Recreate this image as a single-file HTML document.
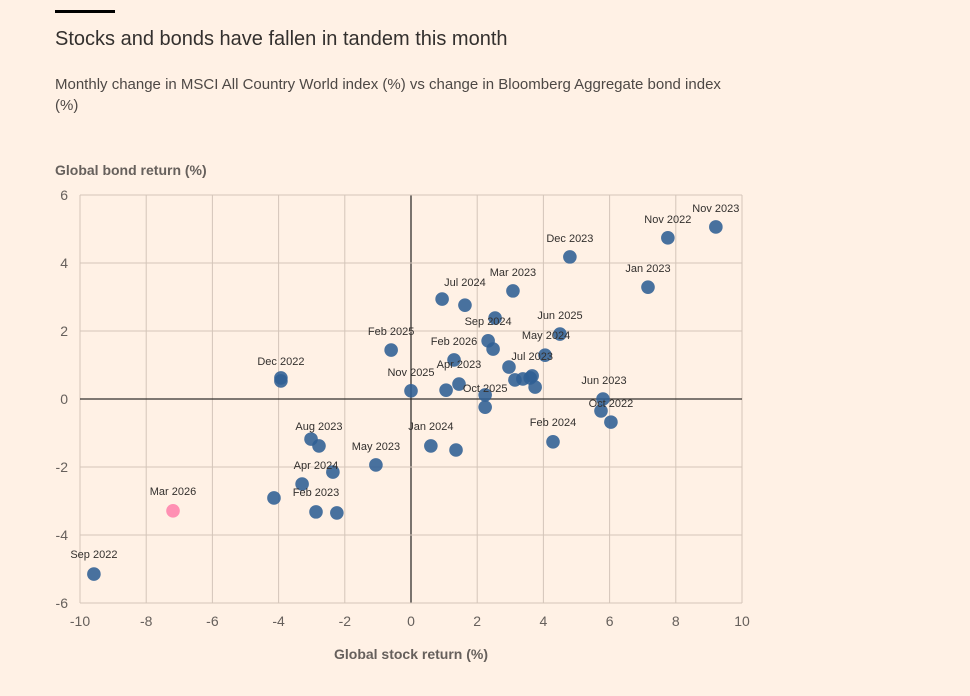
<!DOCTYPE html>
<html><head><meta charset="utf-8"><style>
body{margin:0;background:#fff1e5;font-family:"Liberation Sans",sans-serif;}
#wrap{position:relative;width:970px;height:696px;overflow:hidden;}
</style></head><body>
<div id="wrap">
<svg id="chart" width="970" height="696">
<rect x="55" y="10" width="60" height="3" fill="#000"/>
<text x="55" y="45" font-size="20" fill="#33302e">Stocks and bonds have fallen in tandem this month</text>
<text x="55" y="89" font-size="15" fill="#4d4845">Monthly change in MSCI All Country World index (%) vs change in Bloomberg Aggregate bond index</text>
<text x="55" y="110" font-size="15" fill="#4d4845">(%)</text>
<text x="55" y="175" font-size="14" font-weight="bold" fill="#66605c">Global bond return (%)</text>
<text x="411" y="659" font-size="14" font-weight="bold" fill="#66605c" text-anchor="middle">Global stock return (%)</text>
<g id="grid"></g><g id="dots"></g><g id="labels"></g>
</svg>
</div>
<script>
const xTicks=[-10,-8,-6,-4,-2,0,2,4,6,8,10];
const yTicks=[-6,-4,-2,0,2,4,6];
const stockReturns=[-9.58,-7.19,-3.93,-3.93,-3.02,-2.78,-2.36,-3.29,-4.14,-2.87,-2.24,-1.06,0.0,-0.6,0.6,1.36,0.94,1.63,3.08,2.54,2.33,2.48,1.3,1.45,1.06,2.24,2.24,2.96,3.14,3.38,3.66,3.6,3.75,4.05,4.5,4.29,4.8,7.16,7.76,9.21,5.8,5.74,6.04];
const bondReturns=[-5.15,-3.29,0.62,0.53,-1.18,-1.38,-2.15,-2.5,-2.91,-3.32,-3.35,-1.94,0.24,1.44,-1.38,-1.5,2.94,2.76,3.18,2.38,1.71,1.47,1.15,0.44,0.26,0.12,-0.24,0.94,0.56,0.59,0.68,0.62,0.35,1.29,1.91,-1.26,4.18,3.29,4.74,5.06,0.0,-0.35,-0.68];
const highlightIndex=1;
const labelTexts=["Sep 2022","Mar 2026","Dec 2022","Aug 2023","Apr 2024","Feb 2023","May 2023","Nov 2025","Feb 2025","Jan 2024","Jul 2024","Mar 2023","Sep 2024","Feb 2026","Apr 2023","Oct 2025","Jul 2023","May 2024","Jun 2025","Feb 2024","Dec 2023","Jan 2023","Nov 2022","Nov 2023","Jun 2023","Oct 2022"];
const labelX=[-9.58,-7.19,-3.93,-2.78,-2.87,-2.87,-1.06,0,-0.6,0.6,1.63,3.08,2.33,1.3,1.45,2.24,3.66,4.08,4.5,4.29,4.8,7.16,7.76,9.21,5.83,6.04];
const labelY=[-4.56,-2.71,1.12,-0.79,-1.94,-2.74,-1.38,0.79,2.0,-0.79,3.44,3.74,2.29,1.71,1.03,0.32,1.26,1.88,2.47,-0.68,4.74,3.85,5.29,5.62,0.56,-0.12];
const NS="http://www.w3.org/2000/svg";
const X0=80,X1=742,Y0=603,Y1=195;
function sx(v){return X0+(v+10)/20*(X1-X0);}
function sy(v){return Y0-(v+6)/12*(Y0-Y1);}
function mk(t,a,p){const e=document.createElementNS(NS,t);for(const k in a)e.setAttribute(k,a[k]);p.appendChild(e);return e;}
const grid=document.getElementById('grid');
xTicks.forEach(t=>{
 const l=mk('line',{x1:sx(t),x2:sx(t),y1:Y1,y2:Y0,stroke:t===0?'#33302e':'#d4c5b9','stroke-width':t===0?1.3:1},grid);
 
 
 const tx=mk('text',{x:sx(t),y:Y0+23,'font-size':14,fill:'#66605c','text-anchor':'middle'},grid);
 tx.textContent=t;
 
 
});
yTicks.forEach(t=>{
 const l=mk('line',{x1:X0,x2:X1,y1:sy(t),y2:sy(t),stroke:t===0?'#33302e':'#d4c5b9','stroke-width':t===0?1.3:1},grid);
 
 
 const tx=mk('text',{x:68,y:sy(t)+5,'font-size':14,fill:'#66605c','text-anchor':'end'},grid);
 tx.textContent=t;
 
 
});
const dots=document.getElementById('dots');
stockReturns.forEach((v,i)=>{
 const c=mk('circle',{cx:sx(v),cy:sy(bondReturns[i]),r:6.8,fill:i===highlightIndex?'#ff7faa':'#2f5e94','fill-opacity':i===highlightIndex?0.85:0.88},dots);
 
 
});
const labels=document.getElementById('labels');
labelTexts.forEach((s,i)=>{
 const t=mk('text',{x:sx(labelX[i]),y:sy(labelY[i])+4,'font-size':11,fill:'#33302e','text-anchor':'middle'},labels);
 t.textContent=s;
 
 
});
</script>
</body></html>
